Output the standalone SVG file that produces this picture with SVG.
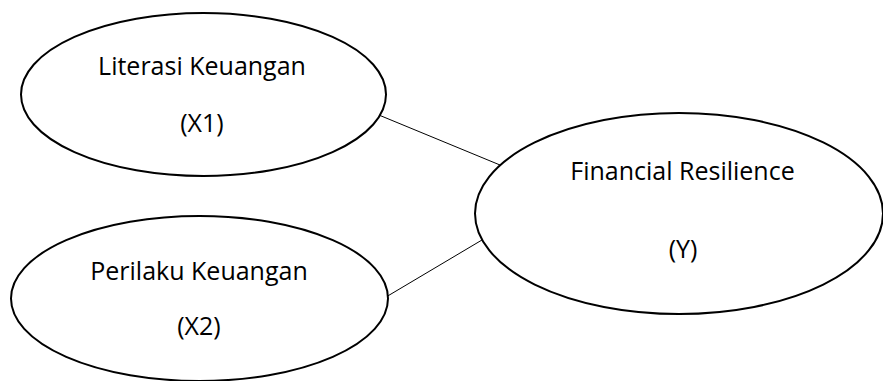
<svg xmlns="http://www.w3.org/2000/svg" width="883" height="381" viewBox="0 0 883 381">
<style>
.n{fill:#fff;stroke:#000;stroke-width:2}
.c{stroke:#000;stroke-width:1;fill:none}
text{font-family:"Open Sans","Noto Sans",sans-serif;font-size:25px;fill:#000;text-anchor:middle}
</style>
<rect width="883" height="381" fill="#fff"/>
<g id="connectors">
<line class="c" x1="374" y1="113" x2="500" y2="165"/>
<line class="c" x1="386" y1="297" x2="487" y2="237"/>
</g>
<g id="x1">
<ellipse class="n" cx="203.5" cy="94.5" rx="182.5" ry="81.5"/>
<text x="202" y="75">Literasi Keuangan</text>
<text x="202" y="132">(X1)</text>
</g>
<g id="x2">
<ellipse class="n" cx="199.5" cy="298.5" rx="188.5" ry="82.5"/>
<text x="199" y="280">Perilaku Keuangan</text>
<text x="199" y="335">(X2)</text>
</g>
<g id="y">
<ellipse class="n" cx="679" cy="213.5" rx="204" ry="100.5"/>
<text x="682.5" y="180">Financial Resilience</text>
<text x="683" y="258">(Y)</text>
</g>
</svg>
